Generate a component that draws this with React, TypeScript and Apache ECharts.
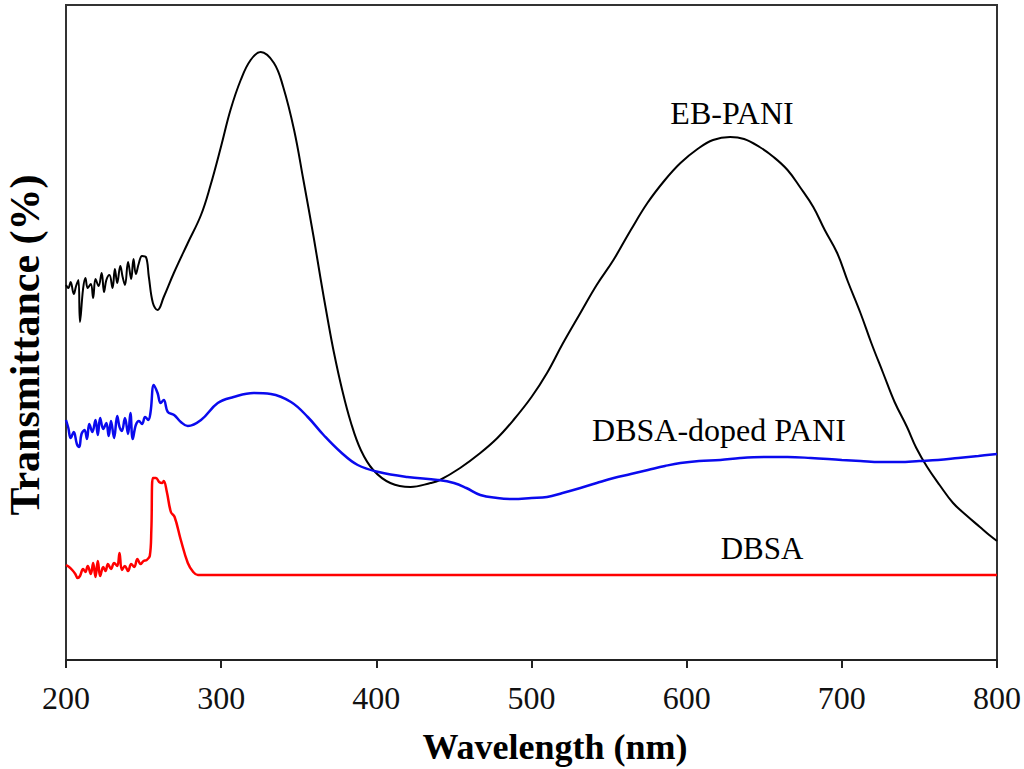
import React, { useEffect, useRef } from "react";
import * as echarts from "echarts";

// Wavelength (nm) and transmittance (arbitrary units, 0-655)
const ebX = [200,201.5,203,205,206.5,208,209,211,212.5,214,216,217.5,219,221,223,224.5,226,228,230,231.5,233,235,236.5,238,240,242,243.5,245,247,249,251.5,253.4,256,259,263,269.5,278.5,287,293,300,306,312.6,319,325.5,334,340,347,353,359.7,364,368.5,372.6,378,383.5,390,398,409,422,435,441,454,467,478,488.4,500,510,520,531.5,542,552.8,564,574.7,586,596,607,617,628,637,647,656,665,673,681.6,689,697,704,712,719,726.6,734,742,748,755,763,771.7,780,789,795,800];
const ebY = [375,372,378,366,374,380,338,371,382,372,376,362,381,374,387,368,380,385,372,391,377,394,383,375,398,381,401,386,397,404,403,383,357,350,363,387,417,445,474,514,550,580,600,608,597,573,530,480,422,382,342,308,270,238,210,190,177,173,177,180,192,207,222,240,263,287,316,347,375,400,430,457,480,497,511,520,523,521,513,503,490,473,453,430,407,378,347,317,287,258,233,212,193,175,157,145,133,125,119];

const dpX = [200,201.5,203,205,207,208.5,210,212,213.5,215,217,219,220.5,222,224,226,227.5,229,231,233,234.5,236,238,240,241.5,243,245,247,249,251,253,254.5,256.6,259,261,263,265.6,269.7,274,278.5,287,297.8,308,321,332,345,355.8,366,377,388,401.5,420,439.6,450,458,467,478,488,500,510,520,531.5,542,553,564,575,586,596,608,621.7,634.5,650,665,680,700,712,724.7,737,750,762,775,788,800];
const dpY = [240,232,222,228,216,213,226,230,221,236,228,240,225,242,231,237,224,239,222,244,233,229,242,226,247,221,235,239,236,243,240,248,275,267,257,260,248,245,238,234,240,257,263,267,266,258,243,225,208,195,188,183,180,177,172,165,162,161,162,163,167,172,177,182,186,190,194,197,199,200,202,203,203,202,200,199,198,198,199,200,202,204,206];

const dbX = [200,202,204,206,207.5,209,211,212.5,214,216,217.5,219,220.5,222,224,225.5,227,229,231,233,234.5,236,238,240,242,244,246,248,250,252,254,255,256,258,260,262,263,265,267.6,270,274,278.5,282,285,290,300,350,400,450,500,550,600,650,700,750,800];
const dbY = [95,93,90,86,82,84,91,88,94,86,97,83,99,84,93,89,96,91,97,94,107,90,94,89,96,93,101,96,99,100,104,130,182,182,178,177,179,168,148,143,120,97,88,85,85,85,85,85,85,85,85,85,85,85,85,85];

const xTicks = [200, 300, 400, 500, 600, 700, 800];
const seriesNames = ["EB-PANI", "DBSA-doped PANI", "DBSA"];
const xTitle = "Wavelength (nm)";
const yTitle = "Transmittance (%)";

const zip = (xs: number[], ys: number[]) => xs.map((x, i) => [x, ys[i]]);

const SERIF = "Times New Roman, Liberation Serif, DejaVu Serif, serif";

export default function App() {
  const ref = useRef<HTMLDivElement>(null);
  useEffect(() => {
    document.body.style.margin = "0";
    const chart = echarts.init(ref.current!, undefined, { renderer: "svg" });
    chart.setOption({
      animation: false,
      backgroundColor: "#ffffff",
      textStyle: { fontFamily: SERIF },
      grid: {
        left: 66,
        right: 27,
        top: 5,
        bottom: 109,
        show: true,
        borderColor: "#333333",
        borderWidth: 2,
      },
      xAxis: {
        type: "value",
        min: 200,
        max: 800,
        interval: 100,
        axisLine: { show: true, lineStyle: { color: "#222", width: 2 } },
        axisTick: { show: true, length: 8, lineStyle: { color: "#222", width: 2 } },
        axisLabel: {
          fontFamily: SERIF,
          fontSize: 32,
          color: "#111",
          margin: 22,
          formatter: (v: number) => (xTicks.includes(v) ? String(v) : ""),
        },
        splitLine: { show: false },
      },
      yAxis: {
        type: "value",
        min: 0,
        max: 655,
        axisLine: { show: true, lineStyle: { color: "#333", width: 2 } },
        axisTick: { show: false },
        axisLabel: { show: false },
        splitLine: { show: false },
      },
      series: [
        {
          name: seriesNames[0],
          type: "line",
          data: zip(ebX, ebY),
          showSymbol: false,
          smooth: 0.4,
          lineStyle: { color: "#000000", width: 2 },
        },
        {
          name: seriesNames[1],
          type: "line",
          data: zip(dpX, dpY),
          showSymbol: false,
          smooth: 0.4,
          lineStyle: { color: "#0a0aee", width: 2.5 },
        },
        {
          name: seriesNames[2],
          type: "line",
          data: zip(dbX, dbY),
          showSymbol: false,
          smooth: 0.4,
          lineStyle: { color: "#ff0000", width: 2.5 },
        },
      ],
      graphic: [
        {
          type: "text",
          x: 732,
          y: 113,
          style: { text: seriesNames[0], fontFamily: SERIF, fontSize: 32, fill: "#000", align: "center", verticalAlign: "middle" },
        },
        {
          type: "text",
          x: 719,
          y: 430,
          style: { text: seriesNames[1], fontFamily: SERIF, fontSize: 32, fill: "#000", align: "center", verticalAlign: "middle" },
        },
        {
          type: "text",
          x: 762,
          y: 548,
          style: { text: seriesNames[2], fontFamily: SERIF, fontSize: 31, fill: "#000", align: "center", verticalAlign: "middle" },
        },
        {
          type: "text",
          x: 555,
          y: 747,
          style: { text: xTitle, fontFamily: SERIF, fontWeight: "bold", fontSize: 36, fill: "#000", align: "center", verticalAlign: "middle" },
        },
        {
          type: "text",
          x: 25,
          y: 345,
          rotation: Math.PI / 2,
          style: { text: yTitle, fontFamily: SERIF, fontWeight: "bold", fontSize: 42, fill: "#000", align: "center", verticalAlign: "middle" },
        },
      ],
    });
    return () => chart.dispose();
  }, []);
  return <div ref={ref} style={{ width: 1024, height: 769 }} />;
}
